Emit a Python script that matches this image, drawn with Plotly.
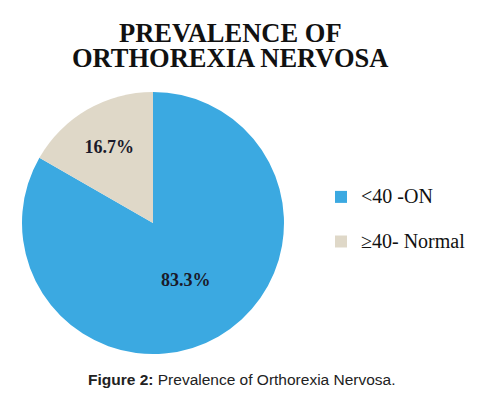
import plotly.graph_objects as go

title_lines = ["PREVALENCE OF", "ORTHOREXIA NERVOSA"]
categories = ["<40 -ON", "≥40- Normal"]
values = [83.3, 16.7]
colors = ["#3BA9E1", "#DFD8C8"]
caption = "<b>Figure 2:</b> Prevalence of Orthorexia Nervosa."

W, H = 485, 398
OFF = 8  # page body margin offset

# legend entries: larger visible text plus an empty second line for the reference's wide spacing
legend_labels = ["<span style='font-size:20px'>" + c + "</span><br> " for c in categories]

fig = go.Figure()
fig.add_trace(go.Pie(
    labels=legend_labels,
    values=values,
    marker=dict(colors=colors, line=dict(width=0)),
    sort=False,
    direction="clockwise",
    rotation=0,
    textinfo="percent",
    texttemplate="%{percent:.1%}",
    textposition="inside",
    insidetextorientation="horizontal",
    textfont=dict(family="Liberation Serif", size=18, color="#1a1a2a", weight="bold"),
    domain=dict(x=[(22 - OFF) / W, (284 - OFF) / W],
                y=[1 - (354 - OFF) / H, 1 - (92 - OFF) / H]),
    hoverinfo="skip",
))

for line, yc in zip(title_lines, [32.5, 57.5]):
    fig.add_annotation(
        text="<b>" + line + "</b>", x=(230 - OFF) / W, y=1 - (yc - OFF) / H,
        xref="paper", yref="paper", xanchor="center", yanchor="middle", showarrow=False,
        font=dict(family="Liberation Serif", size=26.5, color="#111111"),
    )

fig.add_annotation(
    text=caption, x=(242 - OFF) / W, y=1 - (379 - OFF) / H, xref="paper", yref="paper",
    xanchor="center", yanchor="middle", showarrow=False,
    font=dict(family="Liberation Sans, Arial", size=15.5, color="#222222"),
)

fig.update_layout(
    width=W, height=H,
    margin=dict(l=0, r=0, t=0, b=0),
    paper_bgcolor="white", plot_bgcolor="white",
    showlegend=True,
    legend=dict(
        x=313 / W, y=1 - 172 / H, xanchor="left", yanchor="top",
        font=dict(family="Liberation Serif", size=16, color="#111111"),
        valign="top",
        bgcolor="rgba(0,0,0,0)",
    ),
)

fig.write_html("out.html")
